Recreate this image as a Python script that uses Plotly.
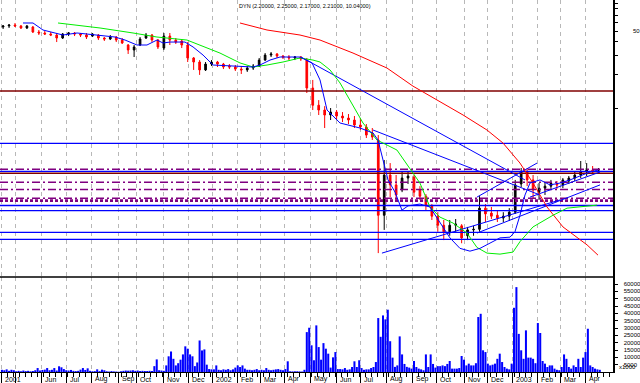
import plotly.graph_objects as go

# ---------------- data ----------------
# x axis: trading-day index, 0 = 1 May 2001
month_idx = [-11, 0, 22, 43, 64, 87, 102, 125, 146, 166, 187, 206, 226, 248, 270, 290,
             312, 334, 354, 377, 397, 418, 439, 458, 479]
month_lbl = ["2001", "", "Jun", "Jul", "Aug", "Sep", "Oct", "Nov", "Dec", "2002", "Feb", "Mar",
             "Apr", "May", "Jun", "Jul", "Aug", "Sep", "Oct", "Nov", "Dec", "2003", "Feb", "Mar", "Apr"]

# weekly candles (centre of each week, trading-day index)
week_x = list(range(-10, 495, 5))
w_open = [54.5, 55.7, 56.8, 55.7, 53.4, 54.5, 49.1, 48.1, 47.1, 46.1,
          43.3, 47.1, 48.1, 47.1, 46.1, 45.1, 46.1, 43.3, 42.4, 44.2,
          41.5, 37.4, 33.7, 37.4, 43.3, 46.1, 41.5, 35.1, 45.1, 41.5,
          40.7, 37.4, 28.5, 26.2, 22.2, 25.1, 26.2, 25.1, 24.1, 23.6,
          22.6, 22.2, 23.1, 24.1, 27.3, 30.3, 31.0, 29.7, 29.1, 28.5,
          29.1, 27.3, 15.2, 10.6, 9.59, 8.64, 9.19, 8.46, 8.11, 7.78,
          7.01, 6.72, 5.93, 5.12, 1.06, 2.46, 2.00, 1.80, 2.31, 2.36,
          1.80, 1.58, 1.29, 1.04, 0.86, 0.75, 0.86, 0.85, 0.69, 0.78,
          0.79, 1.23, 1.11, 1.06, 1.00, 1.04, 1.13, 2.04, 2.62, 2.22,
          1.72, 1.87, 1.95, 2.04, 2.00, 2.17, 2.31, 2.46, 2.62, 2.73, 2.62]
w_high = [56.8, 58.0, 59.3, 56.8, 56.8, 55.7, 51.2, 50.1, 49.1, 48.1,
          48.1, 49.1, 49.1, 48.1, 48.1, 48.1, 47.1, 44.2, 46.1, 45.1,
          43.3, 38.2, 37.4, 44.2, 48.1, 47.1, 42.4, 48.1, 48.1, 43.3,
          42.4, 39.8, 29.1, 27.3, 26.2, 27.3, 26.8, 25.7, 25.1, 24.6,
          24.1, 24.1, 25.1, 28.5, 31.6, 32.3, 31.6, 30.3, 30.3, 29.7,
          29.7, 28.5, 18.0, 11.8, 10.4, 10.0, 9.59, 9.19, 8.82, 8.46,
          8.11, 7.15, 6.58, 5.68, 3.37, 3.16, 2.46, 2.62, 2.62, 2.46,
          1.95, 1.65, 1.34, 1.13, 0.96, 0.96, 0.98, 0.88, 0.83, 0.85,
          1.58, 1.34, 1.26, 1.18, 1.13, 1.23, 2.22, 2.85, 2.85, 2.46,
          2.08, 2.12, 2.22, 2.17, 2.31, 2.41, 2.62, 3.30, 3.16, 2.97, 2.85]
w_low = [52.3, 53.4, 54.5, 52.3, 52.3, 48.1, 46.1, 46.1, 45.1, 39.8,
         42.4, 45.1, 45.1, 44.2, 42.4, 44.2, 41.5, 40.7, 41.5, 39.8,
         38.2, 31.0, 29.1, 36.6, 42.4, 39.8, 34.4, 33.7, 37.4, 38.2,
         35.1, 26.2, 22.2, 20.0, 21.7, 24.1, 23.6, 22.6, 22.6, 21.7,
         20.4, 21.3, 22.2, 23.6, 26.8, 29.1, 28.5, 27.9, 27.3, 27.3,
         26.8, 13.7, 9.59, 8.64, 6.58, 7.78, 7.78, 7.46, 7.15, 6.58,
         6.31, 5.34, 5.12, 0.48, 0.78, 1.55, 1.46, 1.72, 2.04, 1.55,
         1.46, 1.18, 0.96, 0.75, 0.63, 0.69, 0.75, 0.59, 0.63, 0.69,
         0.75, 0.92, 0.98, 0.92, 0.92, 0.94, 1.09, 1.91, 1.95, 1.52,
         1.46, 1.62, 1.84, 1.84, 1.87, 2.04, 2.17, 2.31, 2.41, 2.51, 2.57]
w_close = [55.7, 56.8, 55.7, 53.4, 55.7, 49.1, 48.1, 47.1, 46.1, 43.3,
           47.1, 48.1, 47.1, 46.1, 44.2, 47.1, 43.3, 42.4, 44.2, 41.5,
           39.0, 33.7, 35.9, 42.4, 46.1, 41.5, 35.9, 45.1, 41.5, 39.8,
           37.4, 28.5, 26.2, 22.2, 25.1, 26.2, 25.1, 23.6, 23.6, 22.6,
           22.2, 23.1, 24.1, 27.3, 30.3, 31.0, 29.7, 29.1, 28.5, 29.1,
           27.9, 15.2, 10.6, 9.59, 8.64, 9.19, 8.46, 8.11, 7.78, 7.01,
           6.72, 5.68, 5.45, 1.06, 2.46, 2.00, 1.62, 2.31, 2.41, 1.72,
           1.58, 1.31, 1.04, 0.86, 0.75, 0.86, 0.88, 0.66, 0.78, 0.79,
           1.23, 1.09, 1.04, 1.00, 1.04, 1.13, 2.00, 2.62, 2.22, 1.80,
           1.87, 1.95, 2.08, 2.00, 2.22, 2.31, 2.46, 2.62, 2.73, 2.62, 2.68]

# volume, 2-day buckets (thousands)
vol_x = list(range(-11, 493, 2))
vol_k = [1.5, 1.2, 1.8, 0.8, 1.5, 1.2, 0.5, 0.8, 0.5, 1.0,
         0.6, 0.8, 0.5, 0.7, 1.2, 2.7, 1.0, 1.4, 1.6, 2.7,
         1.2, 1.5, 2.7, 1.0, 3.9, 3.2, 2.0, 1.2, 1.0, 1.4,
         0.8, 0.6, 0.8, 1.6, 2.7, 1.4, 2.5, 0.8, 0.5, 0.6,
         1.8, 0.6, 1.6, 1.2, 0.5, 0.3, 0.6, 0.4, 0.3, 0.2,
         0.5, 0.8, 1.0, 0.9, 1.0, 1.2, 0.8, 1.0, 0.7, 0.8,
         0.7, 0.7, 0.8, 0.7, 4.0, 8.6, 1.2, 1.0, 0.8, 4.5,
         10.7, 14.0, 9.0, 4.5, 6.0, 8.4, 12.0, 17.5, 15.9, 12.0,
         10.7, 4.0, 6.5, 21.5, 14.7, 15.4, 5.0, 2.0, 1.8, 1.8,
         4.5, 1.5, 1.2, 1.8, 1.5, 2.0, 1.2, 1.8, 3.0, 4.5,
         3.4, 4.5, 2.3, 1.5, 1.5, 1.2, 1.5, 2.0, 1.2, 1.5,
         1.2, 2.7, 1.5, 1.2, 1.5, 1.8, 2.0, 1.5, 1.2, 2.0,
         7.3, 0.5, 0.4, 0.5, 0.5, 0.4, 0.3, 1.5, 27.2, 30.2,
         18.2, 8.0, 31.8, 17.0, 8.4, 19.7, 15.9, 12.5, 3.0, 10.0,
         13.6, 2.0, 2.0, 1.8, 2.7, 1.5, 1.8, 3.4, 7.3, 3.4,
         8.0, 2.7, 1.5, 1.8, 1.8, 2.7, 3.4, 6.8, 36.8, 24.0,
         38.6, 35.9, 42.5, 21.0, 9.8, 3.5, 4.5, 24.3, 12.0, 5.5,
         3.5, 3.0, 2.3, 7.5, 3.4, 2.3, 1.8, 1.2, 12.0, 3.4,
         12.0, 5.5, 3.0, 4.0, 4.0, 4.5, 4.0, 5.5, 7.5, 2.3,
         2.3, 2.3, 2.7, 10.9, 8.4, 4.5, 5.7, 4.5, 4.5, 6.0,
         37.5, 39.7, 14.8, 13.6, 5.7, 4.5, 5.0, 5.7, 9.0, 12.5,
         6.8, 3.4, 2.3, 1.8, 5.7, 43.8, 57.9, 26.0, 14.8, 9.0,
         28.4, 9.8, 9.8, 9.0, 6.0, 33.4, 26.6, 7.5, 5.7, 3.4,
         4.5, 4.5, 2.3, 1.5, 1.2, 3.4, 12.0, 9.0, 3.4, 2.3,
         4.5, 3.4, 9.0, 3.4, 9.8, 13.6, 29.5, 4.5, 3.4, 2.3, 1.8, 1.5]

# moving averages
ma_fast_x = [6.7, 15.1, 23.5, 40.3, 52.1, 71.4, 84.0, 92.4, 102.4, 110.8, 119.2, 124.3, 130.2, 142.7,
             149.5, 157.9, 166.3, 183.0, 199.8, 205.7, 214.1, 222.5, 239.3, 249.4, 256.1, 262.0, 272.9,
             289.7, 300.6, 304.8, 309.0, 313.2, 319.1, 324.9, 330.0, 340.0, 348.4, 356.8, 365.2, 373.6,
             382.0, 390.4, 398.8, 407.2, 415.6, 419.8, 424.0, 428.2, 432.4, 440.8, 449.2, 457.6, 466.0,
             474.4, 482.8, 489.5]
ma_fast_y = [59.3, 59.3, 51.2, 46.1, 48.1, 46.1, 44.2, 41.5, 37.4, 37.4, 41.5, 39.0, 39.8, 39.8,
             35.9, 30.3, 24.6, 24.1, 23.6, 24.6, 27.3, 29.1, 29.1, 25.7, 18.0, 9.59, 7.31,
             6.58, 5.93, 5.12, 3.37, 2.22, 1.72, 1.18, 1.29, 1.34, 1.26, 0.92, 0.66, 0.53,
             0.50, 0.53, 0.59, 0.66, 0.67, 0.75, 1.06, 1.62, 2.08, 2.22, 2.00, 2.08, 2.22,
             2.41, 2.62, 2.73]
ma_mid_x = [36.1, 71.4, 99.1, 119.2, 144.4, 155.3, 172.1, 188.9, 199.8, 211.6, 225.0, 239.3, 250.2,
            256.1, 264.5, 272.9, 281.3, 292.2, 303.9, 320.7, 340.0, 348.4, 356.8, 367.8, 379.5, 387.9,
            396.3, 407.2, 418.1, 424.0, 434.9, 451.7, 463.5, 480.3, 488.7]
ma_mid_y = [59.3, 53.4, 48.1, 44.2, 41.5, 37.4, 31.6, 25.7, 23.6, 24.6, 26.2, 28.5, 27.3,
            26.2, 22.2, 16.9, 11.8, 7.31, 5.12, 4.15, 2.08, 1.26, 1.02, 0.90, 0.73, 0.54,
            0.48, 0.47, 0.49, 0.61, 0.83, 1.06, 1.23, 1.29, 1.31]
ma_slow_x = [188.9, 211.6, 239.3, 256.1, 283.8, 312.3, 334.2, 354.3, 376.2, 396.3, 409.7, 424.0,
             434.9, 446.7, 460.1, 480.3, 489.5]
ma_slow_y = [59.3, 51.2, 46.1, 41.5, 31.6, 23.1, 15.8, 11.8, 8.64, 6.31, 4.81, 3.16,
             2.08, 1.26, 0.83, 0.57, 0.46]

# drawn trend lines: (x0, y0, x1, y1)
trend_lines = [(240.1, 29.1, 428.2, 2.22),
               (300.6, 6.31, 440.8, 1.62),
               (308.1, 0.48, 457.6, 1.46),
               (387.9, 1.55, 438.3, 3.16),
               (387.9, 0.73, 491.2, 2.00),
               (432.4, 1.55, 491.2, 2.62)]

# horizontal levels: value, style
level_vals = [14.3, 4.78, 2.77, 2.66, 2.55, 2.11, 1.82, 1.51, 1.44, 1.30, 1.17, 0.74, 0.64]
level_kind = ["maroon", "blue", "dash", "blue", "maroon", "dash", "dash", "dash", "dot",
              "blue", "blue", "blue", "blue"]

vol_ticks = [5000, 10000, 15000, 20000, 25000, 30000, 35000, 40000, 45000, 50000, 55000, 60000]
price_ticks = [10, 20, 30, 40, 50, 60, 70, 80, 90]

TITLE = "DYN (2.20000, 2.25000, 2.17000, 2.21000, 10.04000)"

# ---------------- figure ----------------
X_RANGE = [-12.6, 502.1]
SPLIT = (372 - 277) / 372.0
FONT = "Liberation Sans"

fig = go.Figure()

fig.add_trace(go.Bar(x=vol_x, y=[v * 1000 for v in vol_k], width=1.7,
                     marker=dict(color="#0000ff", line=dict(width=0)),
                     xaxis="x", yaxis="y"))

styles = {
    "maroon": dict(color="#800000", width=1.5, dash="solid"),
    "blue": dict(color="#0000ff", width=1.3, dash="solid"),
    "dash": dict(color="#800080", width=1.5, dash="8px,3px,2px,3px"),
    "dot": dict(color="#800080", width=2.6, dash="3px,2px"),
}
for val, kind in zip(level_vals, level_kind):
    fig.add_trace(go.Scatter(x=X_RANGE, y=[val, val], mode="lines", line=styles[kind],
                             xaxis="x2", yaxis="y2", hoverinfo="skip"))

for x0, y0, x1, y1 in trend_lines:
    fig.add_trace(go.Scatter(x=[x0, x1], y=[y0, y1], mode="lines",
                             line=dict(color="#0000ff", width=1), xaxis="x2", yaxis="y2"))

fig.add_trace(go.Scatter(x=ma_slow_x, y=ma_slow_y, mode="lines",
                         line=dict(color="#ff0000", width=1), xaxis="x2", yaxis="y2"))
fig.add_trace(go.Scatter(x=ma_mid_x, y=ma_mid_y, mode="lines",
                         line=dict(color="#00ee00", width=1), xaxis="x2", yaxis="y2"))
fig.add_trace(go.Scatter(x=ma_fast_x, y=ma_fast_y, mode="lines",
                         line=dict(color="#0000ff", width=1), xaxis="x2", yaxis="y2"))

fig.add_trace(go.Candlestick(x=week_x, open=w_open, high=w_high, low=w_low, close=w_close,
                             increasing=dict(line=dict(color="black", width=1), fillcolor="black"),
                             decreasing=dict(line=dict(color="#ff0000", width=1), fillcolor="#ff0000"),
                             whiskerwidth=0, xaxis="x2", yaxis="y2"))

grid = dict(showgrid=True, gridcolor="#b8b8b8", gridwidth=1, griddash="4px,4px")

fig.update_layout(
    width=640, height=383,
    margin=dict(l=0, r=27, t=0, b=11, autoexpand=False),
    paper_bgcolor="white", plot_bgcolor="white", showlegend=False,
    boxgap=0.6,
    font=dict(family=FONT, size=6, color="black"),
    xaxis=dict(domain=[0, 1], range=X_RANGE, anchor="y", tickmode="array", tickvals=month_idx,
               showticklabels=False, ticks="outside", ticklen=10, tickcolor="black", tickwidth=1,
               showline=True, linecolor="black", linewidth=1, zeroline=False,
               minor=dict(tickmode="linear", tick0=-1, dtick=5, ticks="outside", ticklen=4,
                          tickcolor="black", showgrid=False),
               **grid),
    xaxis2=dict(domain=[0, 1], range=X_RANGE, anchor="y2", tickmode="array", tickvals=month_idx,
                showticklabels=False, ticks="", showline=False, zeroline=False,
                rangeslider=dict(visible=False), **grid),
    yaxis=dict(domain=[0, SPLIT], range=[0, 64800], side="right", anchor="x",
               tickmode="array", tickvals=vol_ticks, ticktext=[str(t) for t in vol_ticks],
               ticks="outside", ticklen=3, tickcolor="black", showgrid=False, zeroline=False,
               showline=True, linecolor="black", linewidth=1.5,
               tickfont=dict(family=FONT, size=6), ticklabelstandoff=5),
    yaxis2=dict(domain=[SPLIT, 1], type="log", range=[-0.536, 1.982], side="right", anchor="x2",
                tickmode="array", tickvals=price_ticks, showticklabels=False,
                ticks="outside", ticklen=3, tickcolor="black", showgrid=False, zeroline=False,
                showline=True, linecolor="black", linewidth=1.5),
    shapes=[dict(type="line", xref="paper", yref="paper", x0=0, x1=1, y0=SPLIT, y1=SPLIT,
                 line=dict(color="black", width=1.5))],
)

ann = [dict(text=TITLE, xref="paper", yref="paper", x=237 / 613, y=366 / 372, xanchor="left",
            yanchor="middle", showarrow=False, font=dict(family=FONT, size=5.5)),
       dict(text="50", xref="paper", yref="paper", x=631 / 613, y=341 / 372, xanchor="left",
            yanchor="middle", showarrow=False, font=dict(family=FONT, size=6)),
       dict(text="x1000", xref="paper", yref="paper", x=617 / 613, y=(372 - 367) / 372,
            xanchor="left", yanchor="middle", showarrow=False, font=dict(family=FONT, size=6))]
for xi, lbl in zip(month_idx, month_lbl):
    if lbl:
        ann.append(dict(text=lbl, xref="x", yref="paper", x=xi, y=-7 / 372, xanchor="left",
                        yanchor="middle", xshift=1.5, showarrow=False,
                        font=dict(family=FONT, size=7)))
fig.update_layout(annotations=ann)

fig.write_html("out.html", config={"displayModeBar": False, "staticPlot": True},
               post_script="document.body.style.margin='0';")
